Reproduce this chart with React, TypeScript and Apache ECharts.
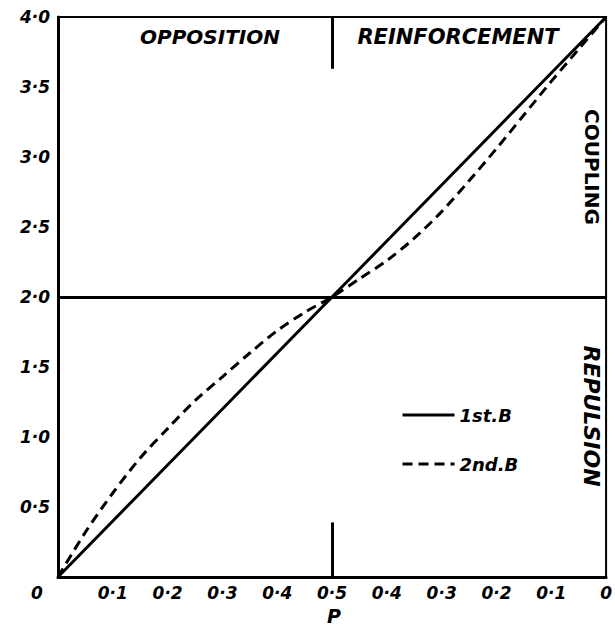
import React, { useEffect, useRef } from "react";
import * as echarts from "echarts";

const pValues = [0, 0.05, 0.1, 0.15, 0.2, 0.25, 0.3, 0.35, 0.4, 0.45, 0.5, 0.55, 0.6, 0.65, 0.7, 0.75, 0.8, 0.85, 0.9, 0.95, 1.0];
const firstB = [0, 0.2, 0.4, 0.6, 0.8, 1.0, 1.2, 1.4, 1.6, 1.8, 2.0, 2.2, 2.4, 2.6, 2.8, 3.0, 3.2, 3.4, 3.6, 3.8, 4.0];
const secondB = [0, 0.32, 0.6, 0.85, 1.06, 1.26, 1.43, 1.6, 1.76, 1.89, 2.0, 2.13, 2.26, 2.42, 2.61, 2.83, 3.06, 3.3, 3.54, 3.77, 4.0];
const dividerY = 2.0;
const midP = 0.5;
const topTickEnd = 3.63;
const bottomTickEnd = 0.39;
const seriesNames = ["1st.B", "2nd.B"];
const regionLabels = { left: "OPPOSITION", right: "REINFORCEMENT", upper: "COUPLING", lower: "REPULSION" };
const axisName = "P";

const FONT = "DejaVu Sans";

function fmt(v: number): string {
  const s = v.toFixed(1);
  return s.replace(".", "·");
}

export default function App() {
  const ref = useRef<HTMLDivElement>(null);
  useEffect(() => {
    if (!ref.current) return;
    const chart = echarts.init(ref.current, undefined, { renderer: "svg" });
    const labelStyle = {
      fontFamily: FONT,
      fontStyle: "italic" as const,
      fontWeight: "bold" as const,
      fontSize: 17,
      color: "#000",
    };
    chart.setOption({
      animation: false,
      backgroundColor: "#fff",
      grid: {
        left: 58,
        right: 5,
        top: 17,
        bottom: 54,
        show: true,
        borderColor: "#000",
        borderWidth: 2,
        backgroundColor: "transparent",
      },
      xAxis: {
        type: "value",
        min: 0,
        max: 1,
        interval: 0.1,
        axisLine: { show: true, lineStyle: { color: "#000", width: 3 } },
        axisTick: { show: false },
        splitLine: { show: false },
        axisLabel: {
          ...labelStyle,
          margin: 7,
          showMinLabel: false,
          formatter: (v: number) => {
            const p = v <= 0.5 ? v : 1 - v;
            const r = Math.round(p * 10) / 10;
            return r === 0 ? "0" : fmt(r);
          },
        },
      },
      yAxis: {
        type: "value",
        min: 0,
        max: 4,
        interval: 0.5,
        axisLine: { show: true, lineStyle: { color: "#000", width: 3 } },
        axisTick: { show: false },
        splitLine: { show: false },
        axisLabel: {
          ...labelStyle,
          margin: 8,
          showMinLabel: false,
          formatter: (v: number) => fmt(v),
        },
      },
      legend: {
        orient: "vertical",
        left: 396,
        top: 401,
        itemWidth: 52,
        itemHeight: 14,
        itemGap: 31,
        data: seriesNames,
        itemStyle: { opacity: 0 },
        lineStyle: { width: 3 },
        textStyle: { ...labelStyle, fontSize: 18 },
      },
      series: [
        {
          name: seriesNames[0],
          type: "line",
          symbol: "none",
          data: pValues.map((p, i) => [p, firstB[i]]),
          lineStyle: { color: "#000", width: 3, type: "solid" },
          itemStyle: { color: "#000" },
          markLine: {
            silent: true,
            symbol: "none",
            label: { show: false },
            lineStyle: { color: "#000", width: 3, type: "solid" },
            data: [
              { yAxis: dividerY },
              [{ coord: [midP, 4] }, { coord: [midP, topTickEnd] }],
              [{ coord: [midP, 0] }, { coord: [midP, bottomTickEnd] }],
            ],
          },
        },
        {
          name: seriesNames[1],
          type: "line",
          symbol: "none",
          smooth: 0.3,
          data: pValues.map((p, i) => [p, secondB[i]]),
          lineStyle: { color: "#000", width: 3, type: [10, 6] },
          itemStyle: { color: "#000" },
        },
      ],
      graphic: [
        {
          type: "text",
          x: 37,
          y: 593,
          style: { text: "0", fill: "#000", font: `italic bold 17px "${FONT}"`, textAlign: "center", textVerticalAlign: "middle" },
        },
        {
          type: "text",
          x: 210,
          y: 37,
          style: { text: regionLabels.left, fill: "#000", font: `italic bold 20px "${FONT}"`, textAlign: "center", textVerticalAlign: "middle" },
        },
        {
          type: "text",
          x: 458,
          y: 37,
          style: { text: regionLabels.right, fill: "#000", font: `italic bold 21px "${FONT}"`, textAlign: "center", textVerticalAlign: "middle" },
        },
        {
          type: "text",
          x: 592,
          y: 167,
          rotation: -Math.PI / 2,
          style: { text: regionLabels.upper, fill: "#000", font: `bold 20px "${FONT}"`, textAlign: "center", textVerticalAlign: "middle" },
        },
        {
          type: "text",
          x: 591,
          y: 416,
          rotation: -Math.PI / 2,
          style: { text: regionLabels.lower, fill: "#000", font: `italic bold 22px "${FONT}"`, textAlign: "center", textVerticalAlign: "middle" },
        },
        {
          type: "text",
          x: 334,
          y: 616,
          style: { text: axisName, fill: "#000", font: `italic bold 19px "${FONT}"`, textAlign: "center", textVerticalAlign: "middle" },
        },
      ],
    });
    return () => chart.dispose();
  }, []);
  return <div ref={ref} style={{ position: "fixed", left: 0, top: 0, width: 615, height: 631 }} />;
}
